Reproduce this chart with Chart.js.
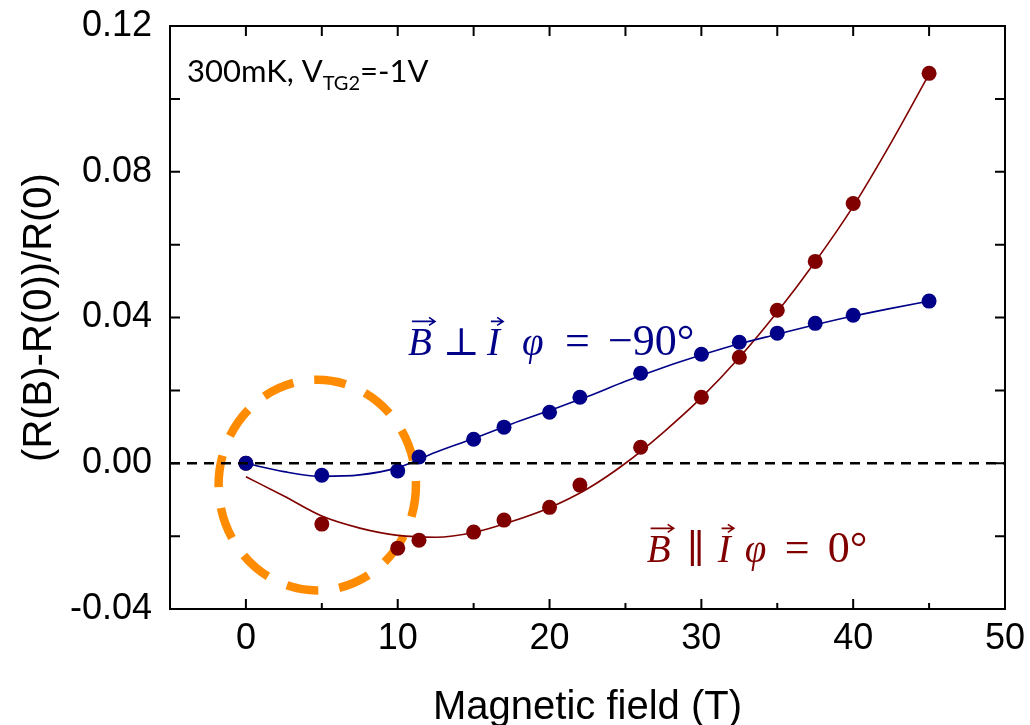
<!DOCTYPE html>
<html>
<head>
<meta charset="utf-8">
<script src="https://cdn.jsdelivr.net/npm/chart.js@4.4.1/dist/chart.umd.min.js"></script>
<style>
    html, body { margin: 0; padding: 0; background: #fff; }
    #wrap { width: 1030px; height: 725px; }
</style>
</head>
<body>
<div id="wrap"><canvas id="mr" width="1030" height="725"></canvas></div>
<script>
// measured points (field in T, relative magnetoresistance)
const FIELD = [0, 5, 10, 11.4, 15, 17, 20, 22, 26, 30, 32.5, 35, 37.5, 40, 45]
const PERP_MR = [0, -0.0033, -0.0021, 0.0017, 0.0066, 0.0099, 0.0140, 0.0181, 0.0247, 0.0299, 0.0332, 0.0357, 0.0384, 0.0406, 0.0445]
const PARA_MR = [0, -0.0167, -0.0233, -0.0211, -0.0189, -0.0156, -0.0121, -0.0060, 0.0044, 0.0181, 0.0291, 0.0420, 0.0554, 0.0713, 0.1070]

// fit curves
const FIT_FIELD = [0, 2.5, 5, 7.5, 10, 12.5, 15, 17.5, 20, 22.5, 25, 27.5, 30, 32.5, 35, 37.5, 40, 42.5, 45]
const PERP_FIT = [0, -0.0023, -0.0036, -0.0032, -0.0012, 0.0030, 0.0068, 0.0108, 0.0145, 0.0183, 0.0225, 0.0263, 0.0297, 0.0328, 0.0354, 0.0380, 0.0404, 0.0425, 0.0445]
const PARA_FIT = [-0.0037, -0.0090, -0.0145, -0.0178, -0.0198, -0.0203, -0.0190, -0.0160, -0.0122, -0.0070, 0.0000, 0.0085, 0.0180, 0.0290, 0.0415, 0.0553, 0.0705, 0.0880, 0.1068]

const ZERO_LINE_X = [-5, 50]

const X_TICK_LABELS = ['0', '10', '20', '30', '40', '50']
const Y_TICK_LABELS = ['-0.04', '0.00', '0.04', '0.08', '0.12']

const BLUE = '#000088'
const RED = '#800000'
const ORANGE = '#ff8c00'

// highlighted low-field region, in data units
const HIGHLIGHT = { x: 4.7, y: -0.006, rx: 6.5, ry: 0.0289 }

const pts = (xs, ys) => xs.map((x, i) => ({ x, y: ys[i] }))

const SANS = '"Liberation Sans", Arial, sans-serif'
const SERIF = '"Liberation Serif", "DejaVu Serif", serif'

// parts carry their own offset (px) from the label start
function drawMath(ctx, x, y, parts, size, color) {
    ctx.fillStyle = color
    ctx.strokeStyle = color
    ctx.textBaseline = 'alphabetic'
    ctx.textAlign = 'left'
    for (const p of parts) {
        const cx = x + p.dx
        ctx.font = `${p.it ? 'italic ' : ''}${p.size || size}px ${SERIF}`
        const w = ctx.measureText(p.t).width
        ctx.fillText(p.t, cx, y)
        if (p.arrow) {
            const ay = y - 34
            const x0 = cx + size * 0.1
            const x1 = cx + w + size * 0.08
            ctx.lineWidth = 1.6
            ctx.beginPath()
            ctx.moveTo(x0, ay)
            ctx.lineTo(x1, ay)
            ctx.moveTo(x1 - 6, ay - 4)
            ctx.lineTo(x1, ay)
            ctx.lineTo(x1 - 6, ay + 4)
            ctx.stroke()
        }
    }
}

const framePlugin = {
    id: 'frame',
    beforeDatasetsDraw(chart) {
        const { ctx, scales: { x, y } } = chart
        const cx = x.getPixelForValue(HIGHLIGHT.x)
        const cy = y.getPixelForValue(HIGHLIGHT.y)
        const rx = Math.abs(x.getPixelForValue(HIGHLIGHT.x + HIGHLIGHT.rx) - cx)
        const ry = Math.abs(y.getPixelForValue(HIGHLIGHT.y + HIGHLIGHT.ry) - cy)
        ctx.save()
        ctx.strokeStyle = ORANGE
        ctx.lineWidth = 8.5
        ctx.setLineDash([32, 21])
        ctx.beginPath()
        ctx.ellipse(cx, cy, rx, ry, 0, 0, Math.PI * 2)
        ctx.stroke()
        ctx.restore()
    },
    afterDraw(chart) {
        const { ctx, chartArea: a, scales: { x, y } } = chart
        ctx.save()
        ctx.strokeStyle = '#000'
        ctx.lineWidth = 2
        ctx.setLineDash([])
        ctx.strokeRect(a.left, a.top, a.right - a.left, a.bottom - a.top)
        ctx.beginPath()
        for (const t of x.ticks) {
            const px = x.getPixelForValue(t.value)
            const major = Math.round(t.value) % 10 === 0
            ctx.moveTo(px, a.bottom)
            ctx.lineTo(px, a.bottom - (major ? 10 : 6))
            ctx.moveTo(px, a.top)
            ctx.lineTo(px, a.top + 10)
        }
        for (const t of y.ticks) {
            const py = y.getPixelForValue(t.value)
            ctx.moveTo(a.left, py)
            ctx.lineTo(a.left + 10, py)
            ctx.moveTo(a.right, py)
            ctx.lineTo(a.right - 10, py)
        }
        ctx.stroke()

        // condition label
        ctx.fillStyle = '#000'
        ctx.textBaseline = 'alphabetic'
        ctx.textAlign = 'left'
        let tx = a.left + 17
        const ty = a.top + 56
        ctx.font = '31px Lato, "Open Sans", sans-serif'
        ctx.fillText('300mK, V', tx, ty)
        tx += ctx.measureText('300mK, V').width
        ctx.font = '20px Lato, "Open Sans", sans-serif'
        ctx.fillText('TG2', tx, ty + 8)
        tx += ctx.measureText('TG2').width
        ctx.font = '31px Lato, "Open Sans", sans-serif'
        ctx.fillText('=-1V', tx, ty)

        drawMath(ctx, x.getPixelForValue(10.68), y.getPixelForValue(0.0296), [
            { t: 'B', it: true, arrow: true, dx: 0 },
            { t: '\u22A5', dx: 35 },
            { t: 'I', it: true, arrow: true, dx: 79 },
            { t: '\u03C6', it: true, dx: 114 },
            { t: '=', dx: 157, size: 44 },
            { t: '\u221290\u00B0', dx: 200, size: 44 }
        ], 39, BLUE)

        drawMath(ctx, x.getPixelForValue(26.4), y.getPixelForValue(-0.0272), [
            { t: 'B', it: true, arrow: true, dx: 0 },
            { t: '\u2225', dx: 40 },
            { t: 'I', it: true, arrow: true, dx: 71 },
            { t: '\u03C6', it: true, dx: 98 },
            { t: '=', dx: 138, size: 44 },
            { t: '0\u00B0', dx: 181, size: 44 }
        ], 39, RED)
        ctx.restore()
    }
}

Chart.defaults.color = '#000'

new Chart(document.getElementById('mr'), {
    type: 'scatter',
    data: {
        datasets: [
            {
                data: pts(ZERO_LINE_X, [0, 0]),
                showLine: true,
                borderColor: '#000',
                borderWidth: 2.5,
                borderDash: [10, 7],
                pointRadius: 0
            },
            {
                data: pts(FIT_FIELD, PERP_FIT),
                showLine: true,
                borderColor: BLUE,
                borderWidth: 1.6,
                cubicInterpolationMode: 'monotone',
                pointRadius: 0
            },
            {
                data: pts(FIT_FIELD, PARA_FIT),
                showLine: true,
                borderColor: RED,
                borderWidth: 1.6,
                cubicInterpolationMode: 'monotone',
                pointRadius: 0
            },
            {
                data: pts(FIELD, PERP_MR),
                backgroundColor: BLUE,
                borderColor: BLUE,
                borderWidth: 0,
                pointRadius: 7.5
            },
            {
                data: pts(FIELD, PARA_MR),
                backgroundColor: RED,
                borderColor: RED,
                borderWidth: 0,
                pointRadius: 7.5
            }
        ]
    },
    options: {
        responsive: false,
        devicePixelRatio: 1,
        animation: false,
        layout: { padding: { top: 26, right: 25, left: 0, bottom: 0 } },
        plugins: {
            legend: { display: false },
            tooltip: { enabled: false }
        },
        scales: {
            x: {
                type: 'linear',
                min: -5,
                max: 50,
                grid: { display: false, drawTicks: false },
                border: { display: false },
                ticks: {
                    stepSize: 5,
                    autoSkip: false,
                    maxRotation: 0,
                    padding: 8,
                    font: { family: SANS, size: 36 },
                    callback: v => X_TICK_LABELS.includes(String(v)) ? String(v) : ''
                },
                title: {
                    display: true,
                    text: 'Magnetic field (T)',
                    font: { family: SANS, size: 40, lineHeight: 0.85 },
                    padding: { top: 0, bottom: 0 }
                },
                afterFit: s => {
                    s.height = 116
                    s.paddingLeft = 0
                    s.paddingRight = 0
                }
            },
            y: {
                type: 'linear',
                min: -0.04,
                max: 0.12,
                grid: { display: false, drawTicks: false },
                border: { display: false },
                ticks: {
                    stepSize: 0.02,
                    autoSkip: false,
                    padding: 18,
                    font: { family: SANS, size: 36 },
                    callback: v => {
                        const s = (Math.abs(v) < 1e-9 ? 0 : v).toFixed(2)
                        return Y_TICK_LABELS.includes(s) ? s : ''
                    }
                },
                title: {
                    display: true,
                    text: '(R(B)-R(0))/R(0)',
                    font: { family: SANS, size: 40, lineHeight: 1 },
                    padding: { top: 20, bottom: 0 }
                },
                afterFit: s => {
                    s.width = 170
                    s.paddingTop = 0
                    s.paddingBottom = 0
                }
            }
        }
    },
    plugins: [framePlugin]
})
</script>
</body>
</html>
